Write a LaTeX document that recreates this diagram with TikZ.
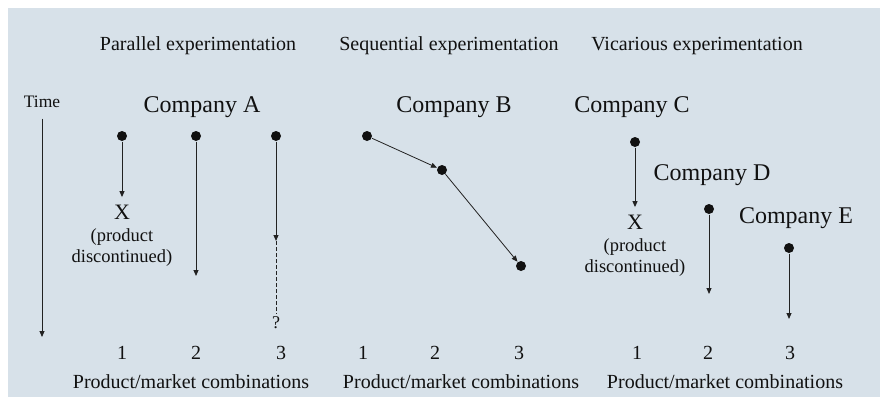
\documentclass[tikz,border=0pt]{standalone}
\usepackage{fontspec}
\setmainfont{Liberation Serif}
\usetikzlibrary{arrows.meta, positioning}
\definecolor{cbg}{HTML}{D7E1E9}
\definecolor{cink}{HTML}{111111}
\definecolor{cline}{HTML}{222222}
\tikzset{
  every picture/.style={line width=1pt},
  dot/.style={circle, fill=cink, inner sep=0pt, minimum size=10pt},
  arrow/.style={-{Triangle[length=6pt, width=5pt]}, draw=cline},
  lbl/.style={inner sep=0pt, anchor=base, text=cink, font=\fontsize{#1}{#1}\selectfont},
  lbl/.default=20,
  head/.style={lbl=20},
  firm/.style={lbl=24},
  note/.style={lbl=18.5},
}

\begin{document}
\begin{tikzpicture}[x=1pt, y=-1pt]
  \useasboundingbox (0,0) rectangle (880,397);
  \fill[cbg] (8,8) rectangle (880,397);

  % headings
  \node[head] (hpar) at (198,50) {Parallel experimentation};
  \node[head] (hseq) at (449,50) {Sequential experimentation};
  \node[head] (hvic) at (697,50) {Vicarious experimentation};

  % time axis
  \node[lbl=17.5] (time) at (42,107) {Time};
  \coordinate (tend) at (42,337);
  \draw[arrow, shorten <=11pt] (time.south) -- (tend);

  % parallel: company A
  \node[firm] (ca) at (202,112) {Company A};
  \node[dot] (a1) at (122,136) {};
  \node[dot] (a2) at (196,136) {};
  \node[dot] (a3) at (276,136) {};
  \node[lbl=22] (xa) at (122,219) {X};
  \node[note] (na) at (122,241) {(product};
  \node[note] (na2) at (122,262) {discontinued)};
  \coordinate (a2end) at (196,276);
  \coordinate (a3mid) at (276,241);
  \node[lbl=18] (qa) at (276,328) {?};
  \draw[arrow, shorten >=7pt] (a1) -- (xa.north);
  \draw[arrow] (a2) -- (a2end);
  \draw[arrow] (a3) -- (a3mid);
  \draw[draw=cline, dash pattern=on 4pt off 2pt, shorten >=2pt] (a3mid) -- (qa.north);

  % sequential: company B
  \node[firm] (cb) at (454,112) {Company B};
  \node[dot] (b1) at (367,136) {};
  \node[dot] (b2) at (442,170) {};
  \node[dot] (b3) at (521,266) {};
  \draw[arrow, line width=0.8pt] (b1) -- (b2);
  \draw[arrow, line width=0.8pt] (b2) -- (b3);

  % vicarious: companies C, D, E
  \node[firm] (cc) at (632,112) {Company C};
  \node[firm] (cd) at (712,180) {Company D};
  \node[firm] (ce) at (796,223) {Company E};
  \node[dot] (c1) at (635,142) {};
  \node[dot] (d1) at (709,209) {};
  \node[dot] (e1) at (789,248) {};
  \node[lbl=22] (xc) at (635,229) {X};
  \node[note] (nc) at (635,251) {(product};
  \node[note] (nc2) at (635,272) {discontinued)};
  \coordinate (d1end) at (709,294);
  \coordinate (e1end) at (789,319);
  \draw[arrow, shorten >=7pt] (c1) -- (xc.north);
  \draw[arrow] (d1) -- (d1end);
  \draw[arrow] (e1) -- (e1end);

  % product/market axis
  \foreach \x/\n in {122/1, 196/2, 281/3, 363/1, 435/2, 519/3, 637/1, 708/2, 790/3}
    \node[lbl=20] (num-\x) at (\x,359) {\n};
  \foreach \x in {191, 461, 725}
    \node[lbl=20] (pm-\x) at (\x,388) {Product/market combinations};
\end{tikzpicture}
\end{document}
